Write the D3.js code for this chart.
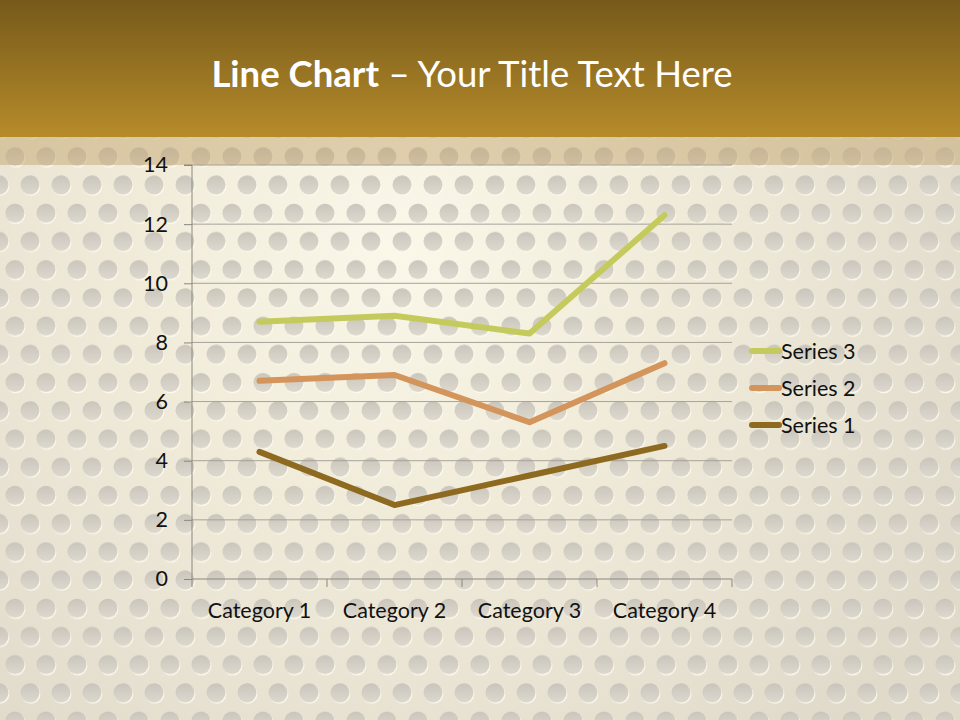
<!DOCTYPE html>
<html><head><meta charset="utf-8">
<script src="https://cdn.jsdelivr.net/npm/d3@7/dist/d3.min.js"></script>
<style>html,body{margin:0;padding:0;background:#fff}svg{display:block}</style>
</head><body>
<script>
const categories = ["Category 1", "Category 2", "Category 3", "Category 4"];
const series1 = [4.3, 2.5, 3.5, 4.5];
const series2 = [2.4, 4.4, 1.8, 2.8];
const series3 = [2, 2, 3, 5];
const seriesNames = ["Series 1", "Series 2", "Series 3"];
const seriesColors = ["#8d6a1f", "#d4955c", "#c4cb5c"];
const yTicks = [0, 2, 4, 6, 8, 10, 12, 14];

const W = 960, H = 720;
const svg = d3.select("body").append("svg").attr("width", W).attr("height", H);
const defs = svg.append("defs");

// background gradient
const rg = defs.append("radialGradient").attr("id", "bgGrad")
  .attr("gradientUnits", "userSpaceOnUse").attr("cx", 400).attr("cy", 250).attr("r", 640);
rg.append("stop").attr("offset", "0").attr("stop-color", "#fbf8ea");
rg.append("stop").attr("offset", "0.4").attr("stop-color", "#f1ecda");
rg.append("stop").attr("offset", "1").attr("stop-color", "#e0dacb");

const hg = defs.append("linearGradient").attr("id", "hdrGrad").attr("x1", 0).attr("y1", 0).attr("x2", 0).attr("y2", 1);
hg.append("stop").attr("offset", "0").attr("stop-color", "#765a1b");
hg.append("stop").attr("offset", "1").attr("stop-color", "#b68b2a");

const cg = defs.append("linearGradient").attr("id", "dotGrad").attr("x1", 0).attr("y1", 0).attr("x2", 0).attr("y2", 1);
cg.append("stop").attr("offset", "0").attr("stop-color", "#c4c0b7").attr("stop-opacity", 0.9);
cg.append("stop").attr("offset", "1").attr("stop-color", "#d4d0c7").attr("stop-opacity", 0.8);

const pw = 31, ph = 56.43;
const pat = defs.append("pattern").attr("id", "dots").attr("patternUnits", "userSpaceOnUse")
  .attr("width", pw).attr("height", ph).attr("x", 0).attr("y", 0);
const centers = [[30, 15.7], [-1, 15.7], [15, 43.9]];
centers.forEach(([cx, cy]) => {
  pat.append("circle").attr("cx", cx + 0.8).attr("cy", cy + 1.2).attr("r", 9.6).attr("fill", "#fffcee").attr("opacity", 0.85);
  pat.append("circle").attr("cx", cx).attr("cy", cy).attr("r", 9.5).attr("fill", "url(#dotGrad)");
});

svg.append("rect").attr("width", W).attr("height", H).attr("fill", "url(#bgGrad)");
svg.append("rect").attr("width", W).attr("height", H).attr("fill", "url(#dots)");
// tan band below header
svg.append("rect").attr("x", 0).attr("y", 137).attr("width", W).attr("height", 28).attr("fill", "#c2a066").attr("opacity", 0.45);
// header
svg.append("rect").attr("x", 0).attr("y", 0).attr("width", W).attr("height", 137).attr("fill", "url(#hdrGrad)");

const fontFam = "Lato, 'Open Sans', sans-serif";

// title
const title = svg.append("text").attr("x", 472).attr("y", 87).attr("text-anchor", "middle")
  .attr("fill", "#ffffff").style("font-family", fontFam).style("font-size", "36.5px");
title.append("tspan").attr("font-weight", "bold").text("Line Chart");
title.append("tspan").text(" \u2013 Your Title Text Here");

// chart
const x0 = 192, x1 = 732, yTop = 165, yBot = 579;
const x = d3.scaleBand().domain(categories).range([x0, x1]);
const y = d3.scaleLinear().domain([0, 14]).range([yBot, yTop]);

// gridlines
svg.append("g").selectAll("line").data(yTicks.filter(t => t > 0)).join("line")
  .attr("x1", x0).attr("x2", x1).attr("y1", d => y(d)).attr("y2", d => y(d))
  .attr("stroke", "#a6a39a").attr("stroke-width", 1);

const yAxis = svg.append("g").attr("transform", `translate(${x0},0)`)
  .call(d3.axisLeft(y).tickValues(yTicks).tickSize(8).tickPadding(16).tickFormat(d3.format("d")));
yAxis.select(".domain").attr("stroke", "#8a877f").attr("d", `M-8,${yTop}H0V${yBot}`);
yAxis.selectAll(".tick line").attr("stroke", "#8a877f");
yAxis.selectAll("text").attr("fill", "#111").style("font-family", fontFam).style("font-size", "21.5px");

const xAxis = svg.append("g").attr("transform", `translate(0,${yBot})`)
  .call(d3.axisBottom(x).tickSize(0).tickPadding(24));
xAxis.select(".domain").attr("stroke", "#8a877f").attr("d", `M${x0},0H${x1}`);
xAxis.selectAll("text").attr("fill", "#111").style("font-family", fontFam).style("font-size", "21.5px");
// category boundary ticks
const bounds = categories.map(c => x(c)).concat([x1]);
svg.append("g").selectAll("line").data(bounds).join("line")
  .attr("x1", d => d).attr("x2", d => d).attr("y1", yBot).attr("y2", yBot + 8)
  .attr("stroke", "#8a877f");

// stacked series
const raw = [series1, series2, series3];
const stacked = [];
let acc = categories.map(() => 0);
raw.forEach(s => { acc = acc.map((v, i) => v + s[i]); stacked.push(acc.slice()); });

const line = d3.line().x((d, i) => x(categories[i]) + x.bandwidth() / 2).y(d => y(d));
svg.append("g").selectAll("path").data(stacked).join("path")
  .attr("d", d => line(d)).attr("fill", "none")
  .attr("stroke", (d, i) => seriesColors[i]).attr("stroke-width", 6)
  .attr("stroke-linecap", "round").attr("stroke-linejoin", "round");

// legend
const legOrder = [2, 1, 0];
const lg = svg.append("g");
legOrder.forEach((si, k) => {
  const ly = 351 + k * 37;
  lg.append("line").attr("x1", 752).attr("x2", 779).attr("y1", ly).attr("y2", ly)
    .attr("stroke", seriesColors[si]).attr("stroke-width", 6).attr("stroke-linecap", "round");
  lg.append("text").attr("x", 781).attr("y", ly).attr("dy", "0.35em")
    .attr("fill", "#111").style("font-family", fontFam).style("font-size", "21.5px").text(seriesNames[si]);
});
</script>
</body></html>
